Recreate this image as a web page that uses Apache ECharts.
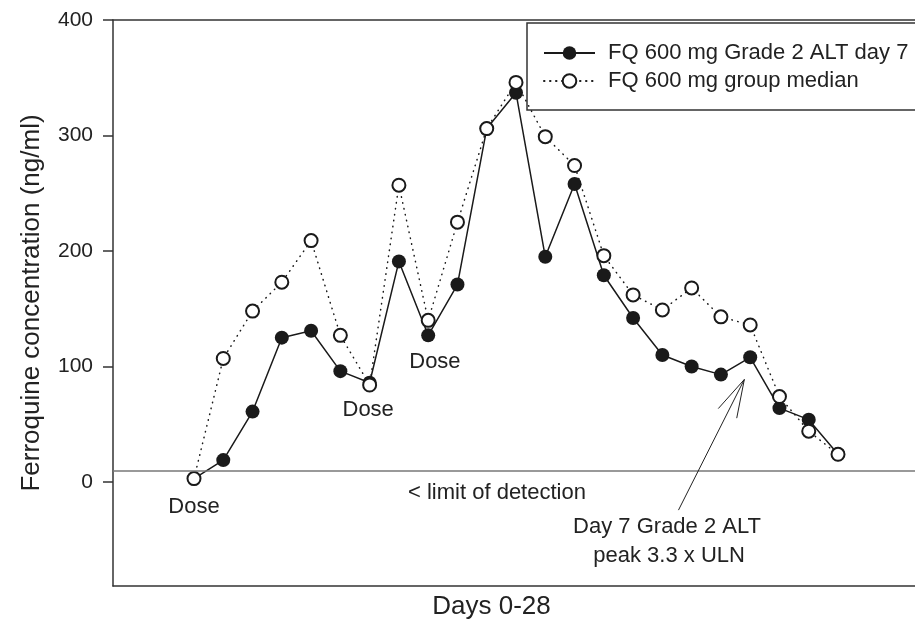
<!DOCTYPE html>
<html><head><meta charset="utf-8">
<script src="https://cdn.jsdelivr.net/npm/echarts@6/dist/echarts.min.js"></script>
<style>html,body{margin:0;padding:0;background:#fff}#c{width:915px;height:625px}</style>
</head><body><div id="c"></div>
<script>
const sampleNo = [0,1,2,3,4,5,6,7,8,9,10,11,12,13,14,15,16,17,18,19,20,21,22];
const caseConc = [3,19,61,125,131,96,86,191,127,171,306,337,195,258,179,142,110,100,93,108,64,54,24];
const medianConc = [3,107,148,173,209,127,84,257,140,225,306,346,299,274,196,162,149,168,143,136,74,44,24];
const yTicks = [0,100,200,300,400];
const detectionLimit = 10;
const seriesNames = ['FQ 600 mg Grade 2 ALT day 7', 'FQ 600 mg group median'];
const annotTexts = ['Dose', 'Dose', 'Dose', '< limit of detection', 'Day 7 Grade 2 ALT', 'peak 3.3 x ULN'];
const annotX = [0, 5.95, 8.23, 10.35, 16.16, 16.23];
const annotY = [-21.5, 62.8, 104, -9.5, -38.7, -63.6];
const arrowFrom = [[16.55, -24.3], [18.80, 88.8], [18.80, 88.8]];
const arrowTo = [[18.80, 88.8], [17.91, 63.6], [18.54, 55.3]];

const FONT = '"Liberation Sans", Arial, Helvetica, sans-serif';
const INK = '#222';

const chart = echarts.init(document.getElementById('c'), null, {renderer: 'canvas'});
const xMin = -2.767, xMax = 24.63;

chart.setOption({
  animation: false,
  backgroundColor: '#fff',
  textStyle: {fontFamily: FONT, color: INK},
  grid: {left: 113, top: 20, right: 0, bottom: 35.3, containLabel: false},
  legend: {
    left: 527, top: 23, orient: 'vertical',
    data: seriesNames,
    backgroundColor: '#fff',
    borderColor: '#333', borderWidth: 1.5, borderRadius: 0,
    padding: [19, 40, 18, 16],
    itemWidth: 51, itemHeight: 17, itemGap: 6,
    textStyle: {fontFamily: FONT, fontSize: 22, color: INK, lineHeight: 22, padding: [0, 0, 0, 8]},
    selectedMode: false
  },
  xAxis: [{
    type: 'value', min: xMin, max: xMax, position: 'bottom',
    name: 'Days 0-28', nameLocation: 'middle', nameGap: 8,
    nameTextStyle: {fontFamily: FONT, fontSize: 26, color: INK, padding: [0, 45, 0, 0], verticalAlign: 'top'},
    axisLine: {show: true, onZero: false, lineStyle: {color: '#333', width: 1.5}},
    axisTick: {show: false}, axisLabel: {show: false}, splitLine: {show: false}
  }, {
    type: 'value', min: xMin, max: xMax, position: 'top',
    axisLine: {show: true, onZero: false, lineStyle: {color: '#333', width: 1.5}},
    axisTick: {show: false}, axisLabel: {show: false}, splitLine: {show: false}
  }],
  yAxis: {
    type: 'value', min: -90, max: 400,
    name: 'Ferroquine concentration (ng/ml)', nameLocation: 'middle', nameRotate: 90, nameGap: 68,
    nameTextStyle: {fontFamily: FONT, fontSize: 26, color: INK},
    axisLine: {show: true, onZero: false, lineStyle: {color: '#333', width: 1.5}},
    axisTick: {show: true, inside: false, length: 10, customValues: yTicks, lineStyle: {color: '#333', width: 1.5}},
    axisLabel: {show: true, customValues: yTicks, margin: 20, fontFamily: FONT, fontSize: 21, color: INK},
    splitLine: {show: false}
  },
  series: [{
    name: seriesNames[0], type: 'line',
    data: sampleNo.map((x, i) => [x, caseConc[i]]),
    symbol: 'circle', symbolSize: 14, showAllSymbol: true,
    lineStyle: {color: '#1a1a1a', width: 1.5},
    itemStyle: {color: '#1a1a1a', borderWidth: 0},
    z: 3,
    markLine: {
      silent: true, symbol: ['none', 'none'], animation: false,
      label: {show: false},
      data: [
        [{xAxis: xMin, yAxis: detectionLimit, lineStyle: {color: '#777', width: 1.5, type: 'solid'}},
         {xAxis: xMax, yAxis: detectionLimit}]
      ].concat(arrowFrom.map((f, i) => [
        {coord: f, lineStyle: {color: '#222', width: 1, type: 'solid'}},
        {coord: arrowTo[i]}
      ]))
    },
    markPoint: {
      silent: true, symbol: 'circle', symbolSize: 0, animation: false,
      label: {show: true, position: 'inside', fontFamily: FONT, fontSize: 22, color: INK, lineHeight: 24},
      data: annotTexts.map((t, i) => ({coord: [annotX[i], annotY[i]], value: t, label: {formatter: t}}))
    }
  }, {
    name: seriesNames[1], type: 'line',
    data: sampleNo.map((x, i) => [x, medianConc[i]]),
    symbol: 'emptyCircle', symbolSize: 13, showAllSymbol: true,
    lineStyle: {color: '#1a1a1a', width: 1.5, type: [0.5, 5.5], cap: 'round'},
    itemStyle: {color: '#1a1a1a', borderWidth: 1.8},
    z: 4
  }]
});
</script></body></html>
